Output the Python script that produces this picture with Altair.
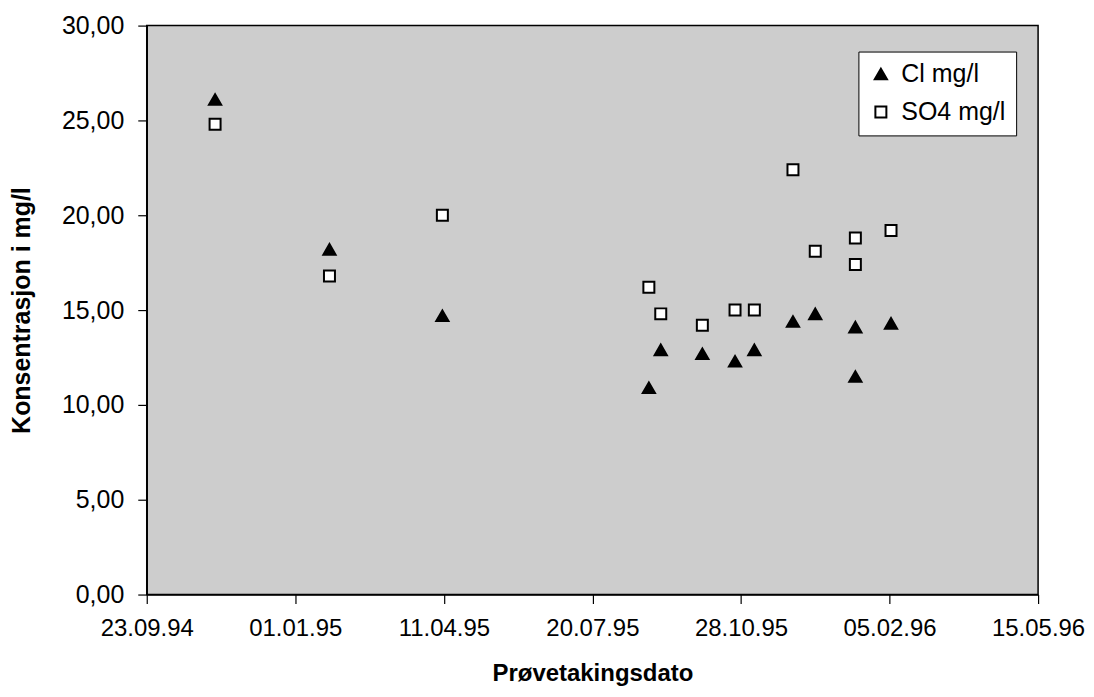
import altair as alt
import pandas as pd

# Sampling dates
dates = ["1994-11-08", "1995-01-24", "1995-04-10", "1995-08-27", "1995-09-04",
         "1995-10-02", "1995-10-24", "1995-11-06", "1995-12-02", "1995-12-17",
         "1996-01-13", "1996-01-13", "1996-02-06"]
cl_values = [26.1, 18.2, 14.7, 10.9, 12.9, 12.7, 12.3, 12.9, 14.4, 14.8, 14.1, 11.5, 14.3]
so4_values = [24.8, 16.8, 20.0, 16.2, 14.8, 14.2, 15.0, 15.0, 22.4, 18.1, 18.8, 17.4, 19.2]
series_names = ["Cl mg/l", "SO4 mg/l"]
x_ticks = ["1994-09-23", "1995-01-01", "1995-04-11", "1995-07-20",
           "1995-10-28", "1996-02-05", "1996-05-15"]
y_ticks = [0, 5, 10, 15, 20, 25, 30]

rows = []
for d, v in zip(dates, cl_values):
    rows.append({"date": d, "value": v, "serie": series_names[0]})
for d, v in zip(dates, so4_values):
    rows.append({"date": d, "value": v, "serie": series_names[1]})
df = pd.DataFrame(rows)

def ms(s):
    return int(pd.Timestamp(s, tz="UTC").value // 10**6)

tick_ms = [ms(t) for t in x_ticks]

FONT = "Liberation Sans"
legend = alt.Legend(title=None, orient="none", legendX=713, legendY=26,
                    fillColor="white", strokeColor="black", padding=10,
                    labelFontSize=25, labelFont=FONT, labelColor="black",
                    labelOffset=8, rowPadding=12, symbolStrokeWidth=2)

chart = alt.Chart(df).mark_point(strokeWidth=2, opacity=1, stroke="black").encode(
    x=alt.X("date:T",
            scale=alt.Scale(type="utc", domain=[tick_ms[0], tick_ms[-1]], nice=False),
            axis=alt.Axis(values=tick_ms,
                          labelExpr="utcFormat(datum.value, '%d.%m.%y')",
                          labelFlush=False, labelOverlap=False, labelBound=False,
                          title="Prøvetakingsdato", labelFontSize=24,
                          labelPadding=13, tickSize=9, titleFontSize=24,
                          titleFontWeight="bold", titleX=446.5, titleY=86,
                          titleBaseline="alphabetic", grid=False)),
    y=alt.Y("value:Q",
            scale=alt.Scale(domain=[0, 30], nice=False),
            axis=alt.Axis(values=y_ticks,
                          labelExpr="replace(format(datum.value, '.2f'), '.', ',')",
                          labelFlush=False, labelOverlap=False, labelBound=False,
                          title="Konsentrasjon i mg/l", labelFontSize=25,
                          labelPadding=14, tickSize=9, titleFontSize=25,
                          titleFontWeight="bold", titleAngle=-90, titleX=-117,
                          titleY=285, titleBaseline="alphabetic", titleAlign="center",
                          grid=False)),
    shape=alt.Shape("serie:N", scale=alt.Scale(domain=series_names,
                    range=["triangle-up", "square"]), legend=legend),
    fill=alt.Fill("serie:N", scale=alt.Scale(domain=series_names,
                  range=["black", "white"]), legend=legend),
    size=alt.Size("serie:N", scale=alt.Scale(domain=series_names,
                  range=[150, 121]), legend=legend),
).properties(
    width=893, height=570,
    background="white",
    autosize=alt.AutoSizeParams(type="none"),
    padding={"left": 139, "top": 17, "right": 48, "bottom": 94},
).configure_view(
    fill="#cdcdcd", stroke="black", strokeWidth=1.5
).configure_axis(
    labelFont=FONT, titleFont=FONT, labelColor="black", titleColor="black",
    domainColor="black", tickColor="black", domainWidth=1.5, tickWidth=1.2
)

chart.save("out.html", embed_options={"renderer": "svg", "actions": False})
